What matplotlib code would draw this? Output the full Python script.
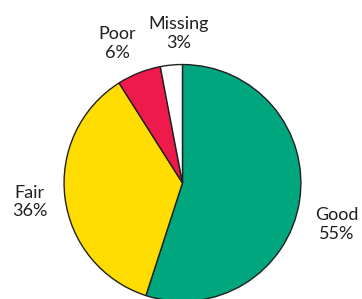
import matplotlib
matplotlib.use("Agg")
import matplotlib.pyplot as plt

# valores del gráfico
categorias = ["Good", "Fair", "Poor", "Missing"]
porcentajes = [55, 36, 6, 3]
colores = ["#00A67E", "#FFDD00", "#EE1A4B", "#FFFFFF"]

# posiciones de las etiquetas (coordenadas del pie, radio 1)
pos_etiquetas = {
    "Good": (1.30, -0.35),
    "Fair": (-1.29, -0.16),
    "Poor": (-0.55, 1.18),
    "Missing": (-0.03, 1.26),
}

fig = plt.figure(figsize=(3.62, 2.99), dpi=100)
ax = fig.add_axes([0, 0, 1, 1])
ax.pie(porcentajes, colors=colores, startangle=90, counterclock=False,
       radius=1, wedgeprops=dict(edgecolor="#231F20", linewidth=1.0))
ax.set_xlim(-1.54, 1.515)
ax.set_ylim(-0.98, 1.545)
ax.set_aspect("equal")
ax.axis("off")

for cat, val in zip(categorias, porcentajes):
    x, y = pos_etiquetas[cat]
    ax.text(x, y, f"{cat}\n{val}%", ha="center", va="center",
            fontsize=13, family="Lato", color="#231F20", linespacing=1.2)

fig.savefig("out.png", dpi=100)
